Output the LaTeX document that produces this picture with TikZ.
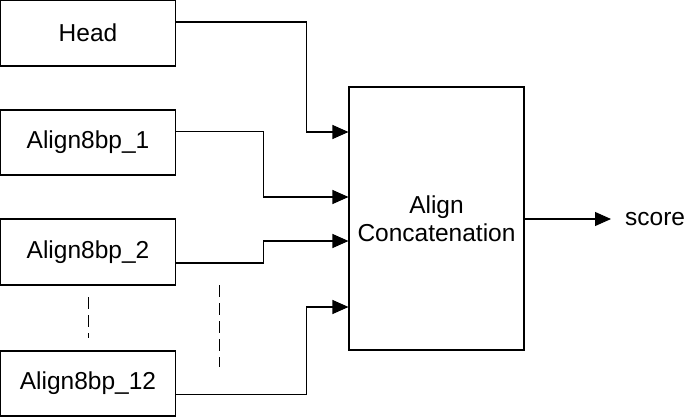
\documentclass[tikz,border=0pt]{standalone}
\usepackage{fontspec}
\setmainfont{Liberation Sans}
\usetikzlibrary{arrows.meta}
\tikzset{
  blockbox/.style={draw, line width=1.1pt, minimum width=175pt, inner sep=0pt, font=\fontsize{24.5}{28}\selectfont},
  arr/.style={-{Triangle[length=16pt,width=14pt]}, line width=1.1pt},
  dots/.style={line width=0.9pt, dash pattern=on 12pt off 6pt}
}
\begin{document}
\begin{tikzpicture}[x=1pt,y=-1pt]
\useasboundingbox (0,0) rectangle (685,417);
% input blocks
\node[blockbox, minimum height=66pt] (head) at (88,33) {Head};
\node[blockbox, minimum height=65pt] (align1) at (88,142.5) {Align8bp\_1};
\node[blockbox, minimum height=66pt] (align2) at (88,252) {Align8bp\_2};
\node[blockbox, minimum height=65pt] (align12) at (88,383.5) {Align8bp\_12};
% concatenation block
\node[blockbox, minimum height=263pt, align=center] (concat) at (436.5,218.5) {Align\\Concatenation};
\node[anchor=west, inner sep=0pt, font=\fontsize{24.5}{28}\selectfont] (score) at (625,219) {score};
% entry points
\coordinate (in1) at (concat.west |- 0,132);
\coordinate (in2) at (concat.west |- 0,197);
\coordinate (in3) at (concat.west |- 0,241);
\coordinate (in4) at (concat.west |- 0,307);
\draw[arr] ([yshift=11pt]head.east) -- ++(130,0) |- (in1);
\draw[arr] ([yshift=11pt]align1.east) -- ++(87,0) |- (in2);
\draw[arr] ([yshift=-11pt]align2.east) -- ++(87,0) |- (in3);
\draw[arr] ([yshift=-11pt]align12.east) -- ++(130,0) |- (in4);
\draw[arr] (concat.east |- score.west) -- ([xshift=-14pt]score.west);
% omitted blocks
\draw[dots] (88,297) -- (88,338);
\draw[dots] (219,285) -- (219,367);
\end{tikzpicture}
\end{document}
